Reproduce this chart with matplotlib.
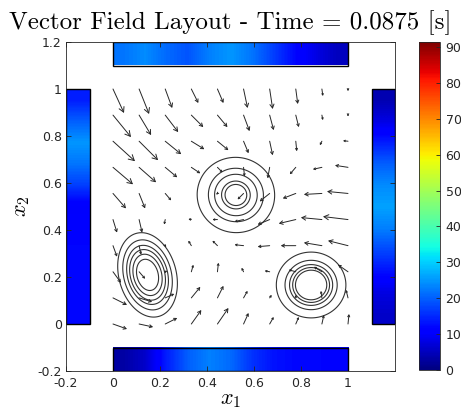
import numpy as np
import matplotlib
matplotlib.use("Agg")
import matplotlib.pyplot as plt
from matplotlib.patches import Rectangle
from matplotlib.ticker import FuncFormatter

plt.rcParams["mathtext.fontset"] = "cm"
plt.rcParams["font.family"] = "DejaVu Sans"

TITLE = "Vector Field Layout - Time = 0.0875 [s]"

# colour scale of the heaters / colorbar
CMIN, CMAX = 0.0, 91.4
CBAR_TICKS = [0, 10, 20, 30, 40, 50, 60, 70, 80, 90]

# heater values sampled along each strip (11 samples, 0 -> 1 along the edge)
top_strip = [22, 24, 21, 19, 23, 25, 22, 17, 12, 8, 5]
bottom_strip = [3, 6, 14, 20, 23, 21, 16, 13, 12, 12, 11]
left_strip = [12, 12, 12, 12, 11, 10, 17, 22, 25, 20, 14]    # y = 0 -> 1
right_strip = [6, 8, 13, 18, 23, 26, 24, 20, 14, 8, 4]       # y = 0 -> 1

# quiver grid (10 x 10), rows listed from y = 1 (top) down to y = 0
grid = np.linspace(0, 1, 10)
U = [
    [11, 10, 7, 7, 6, 4, 3, 2, 1, 0],
    [18, 12, 13, 12, 10, 6, 4, 3, 1, 0],
    [22, 19, 16, 13, 11, 5, 3, 1, -2, -5],
    [20, 17, 12, 9, 5, 1, -2, -6, -9, -13],
    [13, 6, 6, 0, -1, -6, -10, -13, -18, -21],
    [4, 3, -1, -3, -5, -9, -12, -17, -21, -25],
    [4, 2, 1, -3, -5, -9, -12, -15, -18, -20],
    [8, 6, 2, 2, 1, -2, -5, -7, -8, -10],
    [14, 13, 9, 9, 6, 4, 2, 0, -1, -2],
    [14, 14, 12, 10, 11, 5, 4, 3, 2, 1],
]
V = [
    [-24, -25, -19, -14, -14, -19, -20, -15, -7, -2],
    [-22, -20, -17, -12, -12, -16, -15, -12, -5, -1],
    [-20, -19, -13, -8, -9, -12, -14, -10, -4, 0.5],
    [-17, -15, -10, -6, -5, -9, -11, -7, -2, 2],
    [-15, -15, -7, 0, -1, -6, -8, -5, -1, 2],
    [-13, -13, -5, 0.5, 0, -2, -5, -4, 2, 3],
    [-11, -9, -1, 5, 5, 1, -1, 0, 3, 5],
    [-11, -7, 1, 7, 9, 4, 1, 2, 5, 7],
    [-7, -4, 4, 11, 12, 7, 3, 3, 7, 8],
    [-5, -3, 6, 14, 16, 11, 7, 7, 9, 10],
]
VEC_SCALE = 235.0   # vector units per data unit

# contour blobs
blob_x = [0.523, 0.147, 0.843]
blob_y = [0.549, 0.209, 0.166]
blob_ax = [0.165, 0.122, 0.148]
blob_ay = [0.160, 0.183, 0.140]
blob_tilt = [-10, 15, 0]
blob_levels = [
    [0.28, 0.37, 0.55, 0.71, 1.0],
    [0.37, 0.49, 0.60, 0.70, 0.83, 1.0],
    [0.45, 0.53, 0.62, 0.75, 1.0],
]

fig = plt.figure(figsize=(4.61, 4.2), dpi=100)
ax = fig.add_axes([66 / 461, 49 / 420, 329 / 461, 329 / 420])

jet = plt.get_cmap("jet")
img_kw = dict(cmap=jet, vmin=CMIN, vmax=CMAX, interpolation="bilinear",
              aspect="auto", zorder=1)
strips = [
    (np.array(top_strip)[np.newaxis, :], (0, 1, 1.1, 1.2)),
    (np.array(bottom_strip)[np.newaxis, :], (0, 1, -0.2, -0.1)),
    (np.array(left_strip)[:, np.newaxis], (-0.2, -0.1, 0, 1)),
    (np.array(right_strip)[:, np.newaxis], (1.1, 1.2, 0, 1)),
]
for data, ext in strips:
    ax.imshow(data, extent=ext, origin="lower", **img_kw)
    ax.add_patch(Rectangle((ext[0], ext[2]), ext[1] - ext[0], ext[3] - ext[2],
                           fill=False, edgecolor="black", lw=1.0, zorder=2))

# contours
gx = np.linspace(-0.1, 1.1, 400)
X, Y = np.meshgrid(gx, gx)
for cx, cy, a, b, t, lev in zip(blob_x, blob_y, blob_ax, blob_ay, blob_tilt, blob_levels):
    th = np.deg2rad(t)
    dx, dy = X - cx, Y - cy
    xr = dx * np.cos(th) + dy * np.sin(th)
    yr = -dx * np.sin(th) + dy * np.cos(th)
    rho = np.sqrt((xr / a) ** 2 + (yr / b) ** 2)
    ax.contour(X, Y, rho, levels=lev, colors="0.2", linewidths=0.8, zorder=3)

# arrows
ys = grid[::-1]
for i, yv in enumerate(ys):
    for j, xv in enumerate(grid):
        u, v = U[i][j], V[i][j]
        L = np.hypot(u, v)
        if L < 0.5:
            continue
        ax.annotate("", xy=(xv + u / VEC_SCALE, yv + v / VEC_SCALE), xytext=(xv, yv),
                    arrowprops=dict(arrowstyle="->,head_length=0.4,head_width=0.22",
                                    color="0.15", lw=0.7, shrinkA=0, shrinkB=0,
                                    mutation_scale=max(2.5, 0.33 * L)),
                    zorder=4)

ax.set_xlim(-0.2, 1.2)
ax.set_ylim(-0.2, 1.2)
ax.set_aspect("equal", adjustable="box")
ax.set_xticks([-0.2, 0, 0.2, 0.4, 0.6, 0.8, 1])
ax.set_yticks([-0.2, 0, 0.2, 0.4, 0.6, 0.8, 1, 1.2])
fmt = FuncFormatter(lambda val, pos: "%g" % round(val, 2))
ax.xaxis.set_major_formatter(fmt)
ax.yaxis.set_major_formatter(fmt)
ax.tick_params(direction="in", length=3.5, width=0.6, top=True, right=True,
               labelsize=9, colors="0.15")
ax.tick_params(axis="x", pad=4)
ax.tick_params(axis="y", pad=3)
for s in ax.spines.values():
    s.set_color("0.15")
    s.set_linewidth(0.6)

ax.set_xlabel(r"$x_1$", fontsize=16, labelpad=0)
ax.set_ylabel(r"$x_2$", fontsize=16, labelpad=4)
ax.set_title(TITLE, fontsize=18, family="cmr10", pad=9)

# colorbar
cax = fig.add_axes([419 / 461, 50 / 420, 21 / 461, 328 / 420])
sm = plt.cm.ScalarMappable(cmap=jet, norm=plt.Normalize(CMIN, CMAX))
cb = fig.colorbar(sm, cax=cax, ticks=CBAR_TICKS)
cb.outline.set_edgecolor("0.15")
cb.outline.set_linewidth(0.6)
cax.tick_params(direction="in", length=3, width=0.6, labelsize=9, colors="0.15", pad=4)

fig.savefig("out.png", dpi=100)
